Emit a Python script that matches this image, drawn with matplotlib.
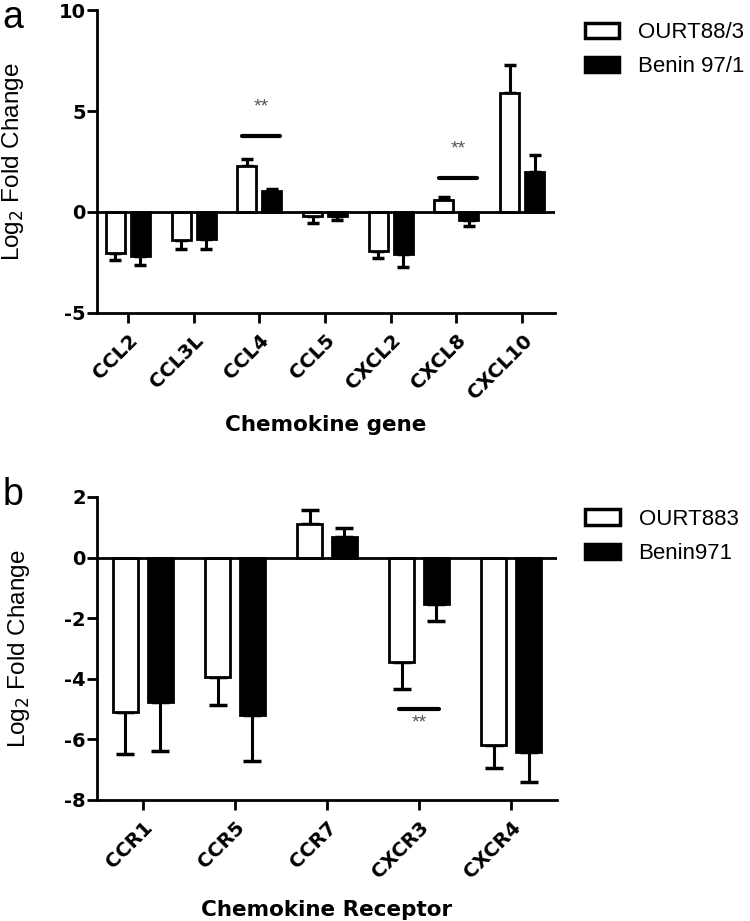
import numpy as np
import matplotlib
matplotlib.use("Agg")
import matplotlib.pyplot as plt
from matplotlib.patches import Patch

plt.rcParams['font.family'] = ['Liberation Sans', 'DejaVu Sans']
plt.rcParams['axes.unicode_minus'] = False

# panel a data
genes = ["CCL2", "CCL3L", "CCL4", "CCL5", "CXCL2", "CXCL8", "CXCL10"]
ourt_a = [-2.03, -1.39, 2.28, -0.2, -1.95, 0.6, 5.9]
ourt_a_err = [0.34, 0.46, 0.34, 0.35, 0.35, 0.15, 1.38]
benin_a = [-2.2, -1.32, 1.04, -0.2, -2.1, -0.4, 1.97]
benin_a_err = [0.45, 0.53, 0.1, 0.2, 0.6, 0.3, 0.83]

# panel b data
receptors = ["CCR1", "CCR5", "CCR7", "CXCR3", "CXCR4"]
ourt_b = [-5.09, -3.93, 1.11, -3.44, -6.17]
ourt_b_err = [1.39, 0.93, 0.47, 0.9, 0.77]
benin_b = [-4.77, -5.2, 0.69, -1.53, -6.43]
benin_b_err = [1.62, 1.53, 0.28, 0.57, 0.97]

BOLD = dict(family='DejaVu Sans', weight='bold')

fig = plt.figure(figsize=(7.5, 9.21), dpi=100)
ax1 = fig.add_axes([0.1293, 0.6602, 0.7400 - 0.1293, 0.9891 - 0.6602])
ax2 = fig.add_axes([0.1293, 0.1314, 0.7427 - 0.1293, 0.4604 - 0.1314])

def draw(ax, cats, v1, e1, v2, e2, width, off, cap):
    x = np.arange(len(cats))
    for xs, vals, errs, fc in [(x - off, v1, e1, 'white'), (x + off, v2, e2, 'black')]:
        ax.bar(xs, vals, width, color=fc, edgecolor='black', linewidth=2, zorder=2)
        lo = [e if v < 0 else 0 for v, e in zip(vals, errs)]
        hi = [e if v >= 0 else 0 for v, e in zip(vals, errs)]
        ax.errorbar(xs, vals, yerr=[lo, hi], fmt='none', ecolor='black',
                    elinewidth=2.2, capsize=cap, capthick=2.5, zorder=1)
    ax.axhline(0, color='black', linewidth=2, zorder=3)
    ax.set_xticks(x)
    ax.set_xticklabels(cats, rotation=45, ha='right', rotation_mode='anchor',
                       fontsize=14, **BOLD)
    for s in ['top', 'right']:
        ax.spines[s].set_visible(False)
    for s in ['left', 'bottom']:
        ax.spines[s].set_linewidth(2)
    ax.tick_params(axis='both', width=2, length=7)
    ax.tick_params(axis='x', pad=6)
    ax.tick_params(axis='y', pad=1)
    ax.set_ylabel('Log$_2$ Fold Change', fontsize=17.5, va='center')
    return x

def fix_yticks(ax, ticks):
    ax.set_yticks(ticks)
    ax.set_yticklabels([str(t) for t in ticks], fontsize=14, **BOLD)

draw(ax1, genes, ourt_a, ourt_a_err, benin_a, benin_a_err, 0.29, 0.19, 4.5)
ax1.set_xlim(-0.47, 6.5)
ax1.set_ylim(-5, 10)
fix_yticks(ax1, [-5, 0, 5, 10])
ax1.yaxis.set_label_coords(-0.183, 0.5)
ax1.set_xlabel('Chemokine gene', fontsize=15.5, **BOLD)
ax1.xaxis.set_label_coords(0.5, -0.37)
ax1.xaxis.label.set_va('center')
# significance
ax1.plot([1.74, 2.32], [3.76, 3.76], color='black', linewidth=3, solid_capstyle='round')
ax1.text(2.03, 5.2, '**', ha='center', va='center', fontsize=14, color='#555555')
ax1.plot([4.74, 5.32], [1.68, 1.68], color='black', linewidth=3, solid_capstyle='round')
ax1.text(5.03, 3.1, '**', ha='center', va='center', fontsize=14, color='#555555')
ha = [Patch(facecolor='white', edgecolor='black', linewidth=2.5),
      Patch(facecolor='black', edgecolor='black', linewidth=2.5)]
ax1.legend(ha, ['OURT88/3', 'Benin 97/1'], loc='upper left', bbox_to_anchor=(1.046, 0.99),
           frameon=False, fontsize=16, handlelength=1.55, handleheight=0.68,
           handletextpad=0.85, labelspacing=0.6, borderaxespad=0)

draw(ax2, receptors, ourt_b, ourt_b_err, benin_b, benin_b_err, 0.28, 0.19, 6.5)
ax2.set_xlim(-0.5, 4.5)
ax2.set_ylim(-8, 2)
fix_yticks(ax2, [-8, -6, -4, -2, 0, 2])
ax2.yaxis.set_label_coords(-0.17, 0.5)
ax2.set_xlabel('Chemokine Receptor', fontsize=15.5, **BOLD)
ax2.xaxis.set_label_coords(0.5, -0.363)
ax2.xaxis.label.set_va('center')
ax2.plot([2.78, 3.22], [-5.0, -5.0], color='black', linewidth=3, solid_capstyle='round')
ax2.text(3.0, -5.45, '**', ha='center', va='center', fontsize=14, color='#555555')
hb = [Patch(facecolor='white', edgecolor='black', linewidth=2.5),
      Patch(facecolor='black', edgecolor='black', linewidth=2.5)]
ax2.legend(hb, ['OURT883', 'Benin971'], loc='upper left', bbox_to_anchor=(1.042, 0.99),
           frameon=False, fontsize=16, handlelength=1.55, handleheight=0.68,
           handletextpad=0.85, labelspacing=0.6, borderaxespad=0)

fig.text(0.003, 1.0, 'a', fontsize=27, va='top')
fig.text(0.003, 0.482, 'b', fontsize=27, va='top')

fig.savefig('out.png', dpi=100)
